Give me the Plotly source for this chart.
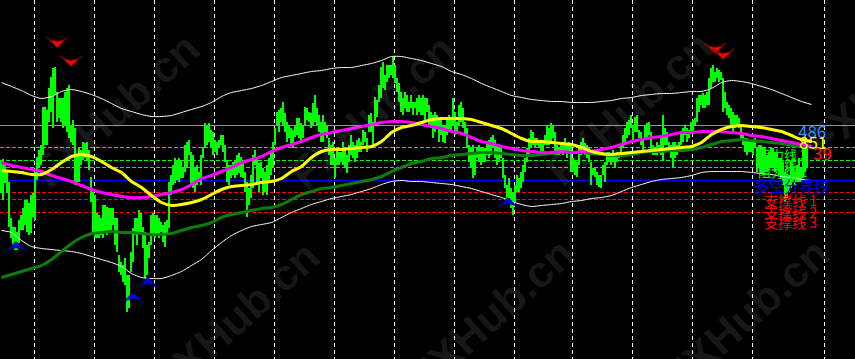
import plotly.graph_objects as go

# ---------------- data (price in points) ----------------
high = [240,241,237,230,218,182,173,173,168,180,185,192,200,200,197,205,207,228,243,250,
        255,293,293,290,312,323,332,333,308,302,302,302,308,312,315,275,280,272,245,252,250,258,257,258,250,
        223,208,205,187,185,182,195,195,193,192,192,192,182,182,145,138,135,142,125,125,148,172,182,182,
        190,187,173,168,155,158,185,187,185,185,182,178,175,178,180,218,225,235,242,240,
        242,240,232,255,258,260,248,245,232,235,228,245,253,277,275,277,270,268,260,258,
        260,265,265,255,240,235,235,238,240,245,247,243,240,228,218,212,225,245,250,242,
        237,238,232,228,235,242,248,258,272,288,290,292,
        298,287,278,275,272,270,275,282,282,277,275,293,292,288,287,297,305,292,285,278,
        285,278,275,262,255,258,242,252,248,248,258,252,245,255,265,258,255,260,262,258,
        270,268,262,285,287,278,303,300,315,333,338,325,335,335,335,343,335,322,317,308,
        302,308,305,298,305,298,298,302,305,302,305,
        302,302,295,288,285,288,285,280,282,275,275,283,285,282,302,288,278,295,298,292,
        278,272,255,252,255,248,252,255,252,253,252,258,260,263,265,260,255,255,255,242,
        225,215,222,212,208,215,225,222,228,235,242,252,262,270,268,262,262,258,258,258,
        265,275,272,277,275,268,255,252,255,258,
        262,255,258,255,242,240,238,255,258,262,257,255,252,238,232,232,228,225,225,235,
        238,248,248,245,250,245,248,248,255,265,272,278,280,285,275,283,285,270,268,262,
        275,277,278,268,255,252,258,255,262,285,272,268,258,255,258,258,255,258,268,272,
        275,272,270,278,280,282,302,305,305,307,
        305,308,322,332,335,328,332,330,328,322,308,298,295,292,288,285,285,282,275,265,
        262,262,260,258,258,262,252,255,255,252,252,245,248,252,252,248,248,242,242,238,
        228,225,225,238,232,228,235,242,232,258,265,255]
low = [207,200,217,207,173,162,153,150,150,157,170,170,175,168,165,167,183,180,220,233,
       235,245,255,255,278,288,272,305,278,282,278,272,274,268,262,258,255,215,218,218,235,240,242,240,230,
       198,168,162,162,162,165,162,168,165,168,168,175,155,148,128,125,118,115,88,92,128,138,165,155,
       168,168,152,122,125,142,155,165,162,165,162,168,158,153,165,172,205,215,217,220,
       218,222,222,228,232,245,215,212,208,215,218,215,242,252,255,258,252,245,248,245,
       252,255,248,238,218,215,222,225,222,225,227,223,222,208,183,195,202,212,235,215,
       208,222,205,208,205,218,225,232,255,275,268,278,
       275,268,258,262,255,252,263,265,262,258,262,275,280,278,272,275,278,275,268,258,
       258,268,262,245,235,235,222,235,235,238,235,232,227,238,245,242,238,242,248,248,
       255,258,248,268,268,255,275,283,298,302,312,310,318,322,325,322,317,308,298,288,
       285,292,288,288,292,285,292,285,288,285,285,
       278,288,275,272,262,268,272,258,265,258,257,265,268,268,275,265,268,275,278,272,
       265,252,238,232,222,225,242,238,235,238,238,245,242,245,252,242,235,238,242,222,
       212,198,202,192,185,198,208,208,212,218,228,238,245,252,255,252,255,252,248,248,
       255,255,255,258,262,245,245,245,248,245,
       248,242,248,228,228,225,223,235,245,252,245,242,238,215,225,223,215,213,212,225,
       218,235,238,235,238,232,238,242,245,252,258,262,265,272,258,268,268,262,255,248,
       262,262,265,248,245,245,245,248,245,240,255,255,248,242,233,242,245,252,255,258,
       265,258,262,268,268,275,278,288,295,292,
       292,295,295,312,318,318,322,318,320,288,292,285,282,275,268,272,275,272,262,255,
       248,245,248,248,245,252,228,232,227,225,228,228,232,232,232,228,232,225,222,215,
       198,202,208,212,218,215,218,218,218,222,228,232]

ma_step = 5  # one sample every 5 bars
ma_fast = [229,228,227,225,225,230,237,243,245,243, 238,232,227,218,212,204,197,194,195,197,
           200,205,210,213,214,215,217,218,221,228, 233,242,248,250,250,251,252,253,258,267,
           272,274,277,280,281,281,281,280,277,274, 271,266,261,258,258,257,256,255,252,248,
           246,245,246,247,248,249,250,251,252,253, 257,265,270,273,274,273,272,270,268,264, 260,258]
ma_mid = [237,234,232,230,228,224,221,218,214,210, 207,205,203,202,202,203,205,207,210,215,
          221,224,228,232,237,240,243,248,252,255, 258,262,265,267,269,271,273,275,277,278,
          278,277,275,273,271,268,266,262,258,256, 253,251,249,248,247,247,248,247,248,248,
          250,252,255,258,260,262,263,265,267,267, 268,268,268,267,266,264,263,261,259,257, 255,253]
ma_slow = [122,125,128,131,134,140,148,156,162,166, 167,168,167,167,166,165,165,166,169,172,
           174,177,182,185,187,189,191,192,195,200, 205,208,211,212,214,216,218,220,223,228,
           232,236,238,241,242,244,245,246,247,247, 246,245,244,244,245,246,247,247,247,246,
           245,244,244,245,247,248,248,249,249,250, 252,255,258,259,260,259,258,257,256,254, 253,252]
band_up = [317,313,309,304,301,303,308,310,308,305, 301,296,291,288,285,283,283,284,287,290,
           293,297,303,307,309,311,314,318,322,324, 326,328,329,331,332,332,334,336,339,343,
           343,341,339,336,333,328,325,321,316,312, 308,304,302,300,299,298,298,297,297,297,
           298,299,301,302,304,305,306,306,307,308, 308,311,317,319,318,316,313,310,306,302, 298,295]
band_dn = [169,167,159,153,151,150,149,148,146,143, 140,137,133,126,122,121,121,124,128,134,
           140,149,157,164,169,173,175,177,182,187, 191,195,198,201,203,205,208,211,215,218,
           219,218,218,217,216,215,213,211,208,205, 202,198,195,193,194,195,196,198,199,201,
           202,204,208,212,215,218,220,221,222,224, 227,228,228,228,228,227,226,225,223,222, 220,219]

day_breaks = [16.5,46.5,76.5,106.5,136.5,166.5,196.5,226.5,256.5,285.5,315.5,345.5,375.5,411.5]

ref_level = 274
resistance = [252, 239, 232]
pivot = 219
support = [207, 200, 187]

sell_bar = [27.75, 34.75, 356.75, 360.75]
sell_px = [352, 333, 346, 340]
buy_bar = [7.25, 65.75, 73.25, 253.25]
buy_px = [158, 107, 122, 202]

# ---------------- figure ----------------
fig = go.Figure()

bar_idx = list(range(len(high)))
fig.add_trace(go.Bar(x=bar_idx, base=low, y=[h - l for h, l in zip(high, low)], width=0.6,
                     marker=dict(color="#00ff00", line=dict(width=0)), hoverinfo="skip"))

ma_x = list(range(0, ma_step * len(ma_fast), ma_step))
for vals, col, w in [(band_up, "#ffffff", 1), (band_dn, "#ffffff", 1),
                     (ma_slow, "#0b7d0b", 3), (ma_mid, "#ff00ff", 3), (ma_fast, "#ffff00", 3)]:
    fig.add_trace(go.Scatter(x=ma_x, y=vals, mode="lines",
                             line=dict(color=col, width=w, shape="spline", smoothing=0.6),
                             hoverinfo="skip"))

fig.add_trace(go.Scatter(x=sell_bar, y=sell_px, mode="markers",
                         marker=dict(symbol="arrow-wide", angle=180, size=15, color="#ff0000",
                                     line=dict(color="#7a0000", width=1)), hoverinfo="skip"))
fig.add_trace(go.Scatter(x=buy_bar, y=buy_px, mode="markers",
                         marker=dict(symbol="arrow-wide", angle=0, size=15, color="#0000ff",
                                     line=dict(color="#00006a", width=1)), hoverinfo="skip"))

shapes = [dict(type="line", xref="paper", x0=0, x1=1, yref="y", y0=ref_level, y1=ref_level,
               line=dict(color="#8a96a3", width=1), layer="below")]
for lv in resistance:
    shapes.append(dict(type="line", xref="paper", x0=0, x1=1, yref="y", y0=lv, y1=lv,
                       line=dict(color="#00ff00", width=1, dash="4px,2px"), layer="below"))
shapes.append(dict(type="line", xref="paper", x0=0, x1=1, yref="y", y0=pivot, y1=pivot,
                   line=dict(color="#0000ff", width=1.5), layer="below"))
for lv in support:
    shapes.append(dict(type="line", xref="paper", x0=0, x1=1, yref="y", y0=lv, y1=lv,
                       line=dict(color="#ff0000", width=1, dash="4px,2px"), layer="below"))

W, H = 855, 359
ann = []
for cx, cy in [(115, 110), (372, 112), (628, 108), (890, 80), (235, 318), (490, 315), (745, 315)]:
    ann.append(dict(xref="paper", yref="paper", x=cx / W, y=1 - cy / H, text="<b>FXHub.cn</b>",
                    showarrow=False, textangle=-42, xanchor="center", yanchor="middle",
                    font=dict(family="Liberation Sans, Arial", size=44, color="rgba(255,255,255,0.09)")))

labels = [
    ("阻力线 3", 757, 154, "#00ff00", 13),
    ("阻力线 2", 757, 163, "#00ff00", 13),
    ("阻力线 1", 757, 171, "#00ff00", 13),
    ("多空分界线", 753, 186, "#0000ff", 15),
    ("支撑线 1", 763, 200, "#ff0000", 14),
    ("支撑线 2", 763, 212, "#ff0000", 14),
    ("支撑线 3", 763, 222, "#ff0000", 14),
    ("486", 797, 130, "#2f8fff", 17),
    ("851", 798, 141, "#ffff00", 17),
    ("39", 812, 152, "#ff1a1a", 17),
]
for txt, lx, ly, col, sz in labels:
    ann.append(dict(xref="paper", yref="paper", x=lx / W, y=1 - ly / H, text=txt, showarrow=False,
                    xanchor="left", yanchor="middle", borderpad=0,
                    font=dict(family="Noto Sans CJK SC, Liberation Sans", size=sz, color=col)))

fig.update_layout(
    width=W, height=H, margin=dict(l=0, r=0, t=0, b=0, pad=0),
    paper_bgcolor="black", plot_bgcolor="black", showlegend=False, bargap=0,
    xaxis=dict(range=[-0.75, 426.75], tickvals=day_breaks, showticklabels=False, ticks="",
               showgrid=True, gridcolor="#ffffff", gridwidth=1, griddash="4px,3px",
               zeroline=False, showline=False, fixedrange=True),
    yaxis=dict(range=[40.5, 399.5], showgrid=False, showticklabels=False, ticks="",
               zeroline=False, showline=False, fixedrange=True),
    shapes=shapes, annotations=ann,
)

fig.write_html("out.html", config={"displayModeBar": False})
